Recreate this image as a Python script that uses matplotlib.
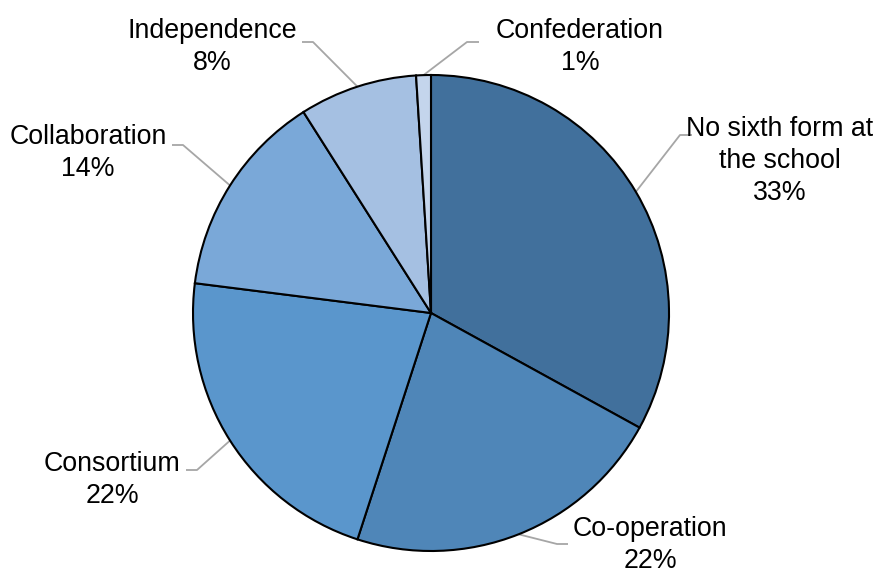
import numpy as np
import matplotlib.pyplot as plt

plt.rcParams['font.family'] = ['Liberation Sans', 'DejaVu Sans']

labels = ['No sixth form at\nthe school', 'Co-operation', 'Consortium',
          'Collaboration', 'Independence', 'Confederation']
values = [33, 22, 22, 14, 8, 1]
colors = ['#41709C', '#4F86B8', '#5A96CC', '#7AA8D8', '#A5C0E2', '#C4D5EC']

# layout in pixel space (y measured from the top of the image)
W, H = 887, 574
cx, cy, r = 431, 313, 238
# label block centres and the elbow of each leader line (pixels, top origin)
text_pos = [(780, 161), (650, 545), (112, 480), (88, 153), (212, 47), (580, 47)]
elbow = [(680, 135), (557, 544), (197, 470), (183, 145), (313, 42), (467, 42)]
tail = [(692, 135), (568, 544), (186, 470), (172, 145), (302, 42), (479, 42)]

fig = plt.figure(figsize=(W / 100, H / 100), dpi=100)
ax = fig.add_axes([0, 0, 1, 1])

wedges, _ = ax.pie(values, colors=colors, startangle=90, counterclock=False,
                   center=(cx, H - cy), radius=r,
                   wedgeprops=dict(edgecolor='black', linewidth=1.5))

total = sum(values)
cum = np.cumsum([0] + values)
for i, (lab, v) in enumerate(zip(labels, values)):
    mid = (cum[i] + v / 2) / total * 360
    ang = np.deg2rad(90 - mid)
    ex, ey = cx + r * np.cos(ang), (H - cy) + r * np.sin(ang)
    bx, by = elbow[i]
    tx, ty = tail[i]
    ax.plot([ex, bx, tx], [ey, H - by, H - ty], color='#A6A6A6', lw=1.3,
            solid_capstyle='butt', zorder=0)
    pct = '{:.0f}%'.format(v / total * 100)
    ax.text(text_pos[i][0], H - text_pos[i][1], lab + '\n' + pct,
            ha='center', va='center', fontsize=19.3, linespacing=1.3,
            color='black')

ax.set_xlim(0, W)
ax.set_ylim(0, H)
ax.set_aspect('equal')
ax.axis('off')

fig.savefig('out.png', dpi=100)
